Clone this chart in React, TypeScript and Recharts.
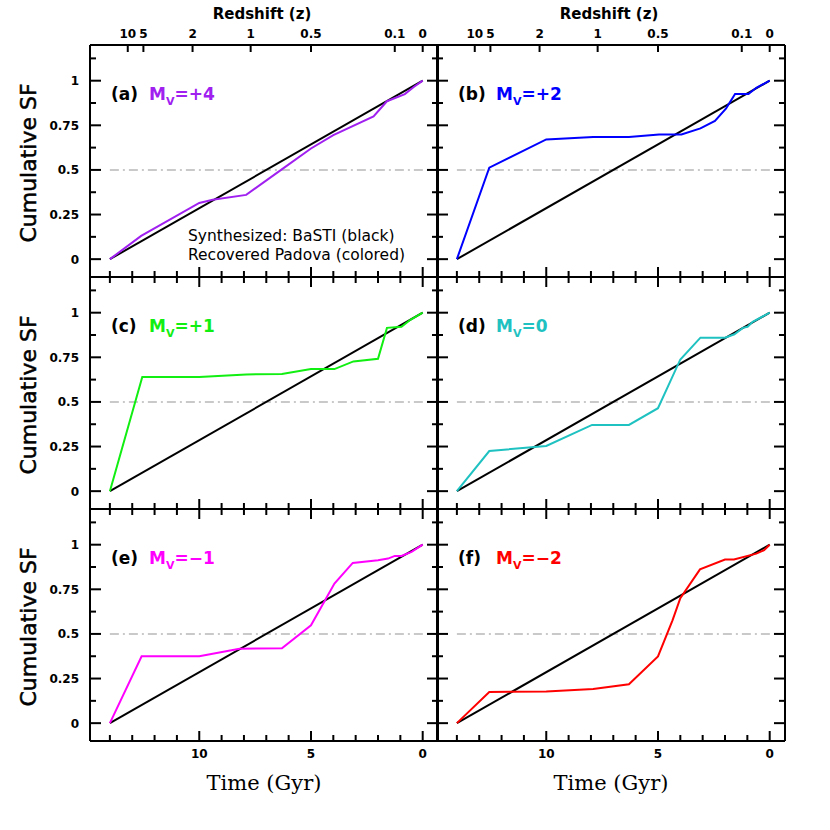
import React from "react";
import { LineChart, Line, XAxis, YAxis, ReferenceLine } from "recharts";

// time axis (lookback, Gyr) and cumulative SF ticks
const timeTicks = [0, 1, 2, 3, 4, 5, 6, 7, 8, 9, 10, 11, 12, 13, 14];
const sfTicks = [0, 0.125, 0.25, 0.375, 0.5, 0.625, 0.75, 0.875, 1, 1.125];
const sfLabels: Record<string, string> = { "0": "0", "0.25": "0.25", "0.5": "0.5", "0.75": "0.75", "1": "1" };

// redshift ticks, placed at their lookback time
const zTicks = [13.2, 12.5, 10.3, 7.7, 5.0, 1.25, 0];
const zLabels = ["10", "5", "2", "1", "0.5", "0.1", "0"];

// synthesized (BaSTI) constant SFH
const synthT = [14, 0];
const synthSF = [0, 1];

// recovered (Padova) per magnitude bin
const aT = [14, 12.6, 10.0, 9.4, 7.9, 6.4, 5.0, 4.0, 2.2, 1.6, 0.8, 0.4, 0];
const aSF = [0, 0.13, 0.315, 0.333, 0.36, 0.495, 0.62, 0.695, 0.8, 0.885, 0.925, 0.965, 1];

const bT = [14, 12.55, 10.0, 7.9, 6.3, 4.95, 3.95, 3.1, 2.45, 1.95, 1.55, 0.95, 0.6, 0];
const bSF = [0, 0.513, 0.671, 0.684, 0.685, 0.698, 0.699, 0.733, 0.775, 0.845, 0.925, 0.925, 0.96, 1];

const cT = [14, 12.55, 10.0, 7.9, 6.3, 5.0, 3.95, 3.1, 2.0, 1.6, 0.95, 0.55, 0];
const cSF = [0, 0.64, 0.64, 0.654, 0.657, 0.684, 0.684, 0.727, 0.742, 0.915, 0.921, 0.96, 1];

const dT = [14, 12.55, 10.0, 7.95, 6.3, 5.0, 4.0, 3.1, 2.0, 1.58, 1.2, 0.99, 0.76, 0];
const dSF = [0, 0.225, 0.253, 0.371, 0.371, 0.465, 0.738, 0.86, 0.86, 0.879, 0.915, 0.921, 0.949, 1];

const eT = [14, 12.58, 10.0, 8.2, 6.3, 5.0, 3.95, 3.13, 2.0, 1.55, 1.25, 0.95, 0.5, 0];
const eSF = [0, 0.375, 0.375, 0.417, 0.42, 0.548, 0.782, 0.898, 0.913, 0.922, 0.937, 0.937, 0.96, 1];

const fT = [14, 12.55, 10.0, 7.9, 6.3, 5.0, 4.35, 4.0, 3.12, 2.0, 1.6, 0.6, 0.25, 0];
const fSF = [0, 0.175, 0.177, 0.192, 0.218, 0.374, 0.576, 0.7, 0.862, 0.917, 0.917, 0.95, 0.969, 1];

const panels = [
  { tag: "(a)", mag: "=+4", color: "#a020f0", t: aT, sf: aSF, row: 0, col: 0 },
  { tag: "(b)", mag: "=+2", color: "#0000ff", t: bT, sf: bSF, row: 0, col: 1 },
  { tag: "(c)", mag: "=+1", color: "#11ee11", t: cT, sf: cSF, row: 1, col: 0 },
  { tag: "(d)", mag: "=0", color: "#1fc1c1", t: dT, sf: dSF, row: 1, col: 1 },
  { tag: "(e)", mag: "=\u22121", color: "#ff00ff", t: eT, sf: eSF, row: 2, col: 0 },
  { tag: "(f)", mag: "=\u22122", color: "#ff0000", t: fT, sf: fSF, row: 2, col: 1 },
];

const W = 830;
const H = 830;
const colX = [90, 437];
const rowY = [45, 277, 509];
const PW = 348;
const PH = 232;
const xDomain = [-0.685, 14.89];
const yDomain = [-0.1, 1.2];

const numFont = { fontFamily: "DejaVu Sans", fontWeight: 700, fontSize: 12 };

function Panel({ p }: { p: (typeof panels)[number] }) {
  const left = colX[p.col];
  const top = rowY[p.row];
  const isTop = p.row === 0;
  const isBottom = p.row === 2;
  const isLeft = p.col === 0;
  const recovered = p.t.map((t, i) => ({ t, sf: p.sf[i] }));
  const synth = synthT.map((t, i) => ({ t, sf: synthSF[i] }));

  const BottomTick = (props: any) => {
    const { x, y, payload } = props;
    const major = payload.value % 5 === 0;
    return (
      <g>
        <line x1={x} x2={x} y1={y} y2={y - (major ? 10 : 6)} stroke="#000" strokeWidth={2} />
        {isBottom && major && (
          <text x={x} y={y + 17} textAnchor="middle" fill="#000" {...numFont}>
            {payload.value}
          </text>
        )}
      </g>
    );
  };

  const TopTick = (props: any) => {
    const { x, y, payload, index } = props;
    if (isTop) {
      return (
        <g>
          <line x1={x} x2={x} y1={y} y2={y + 7} stroke="#000" strokeWidth={2} />
          <text x={x} y={y - 7} textAnchor="middle" fill="#000" {...numFont}>
            {zLabels[index]}
          </text>
        </g>
      );
    }
    const major = payload.value % 5 === 0;
    return <line x1={x} x2={x} y1={y} y2={y + (major ? 10 : 6)} stroke="#000" strokeWidth={2} />;
  };

  const LeftTick = (props: any) => {
    const { x, y, payload } = props;
    const label = sfLabels[String(payload.value)];
    return (
      <g>
        <line x1={x} x2={x + (label ? 11 : 6)} y1={y} y2={y} stroke="#000" strokeWidth={2} />
        {isLeft && label && (
          <text x={x - 11} y={y + 4.5} textAnchor="end" fill="#000" {...numFont}>
            {label}
          </text>
        )}
      </g>
    );
  };

  const RightTick = (props: any) => {
    const { x, y, payload } = props;
    const label = sfLabels[String(payload.value)];
    return <line x1={x} x2={x - (label ? 11 : 6)} y1={y} y2={y} stroke="#000" strokeWidth={2} />;
  };

  const axisLine = { stroke: "#000", strokeWidth: 2 };

  return (
    <div style={{ position: "absolute", left: 0, top: 0 }}>
      <LineChart
        width={W}
        height={H}
        margin={{ left: left - 1, top: top - 1, right: W - left - PW - 1, bottom: H - top - PH - 1 }}
      >
        <XAxis
          xAxisId="b"
          type="number"
          dataKey="t"
          orientation="bottom"
          reversed
          domain={xDomain}
          allowDataOverflow
          ticks={timeTicks}
          interval={0}
          height={1}
          tickSize={0}
          tickMargin={0}
          tickLine={false}
          axisLine={axisLine}
          tick={<BottomTick />}
        />
        <XAxis
          xAxisId="t"
          type="number"
          dataKey="t"
          orientation="top"
          reversed
          domain={xDomain}
          allowDataOverflow
          ticks={isTop ? zTicks : timeTicks}
          interval={0}
          height={1}
          tickSize={0}
          tickMargin={0}
          tickLine={false}
          axisLine={axisLine}
          tick={<TopTick />}
        />
        <YAxis
          yAxisId="l"
          type="number"
          orientation="left"
          domain={yDomain}
          allowDataOverflow
          ticks={sfTicks}
          interval={0}
          width={1}
          tickSize={0}
          tickMargin={0}
          tickLine={false}
          axisLine={axisLine}
          tick={<LeftTick />}
        />
        <YAxis
          yAxisId="r"
          type="number"
          orientation="right"
          domain={yDomain}
          allowDataOverflow
          ticks={sfTicks}
          interval={0}
          width={1}
          tickSize={0}
          tickMargin={0}
          tickLine={false}
          axisLine={axisLine}
          tick={<RightTick />}
        />
        <ReferenceLine
          xAxisId="b"
          yAxisId="l"
          segment={[
            { x: 14, y: 0.5 },
            { x: xDomain[0], y: 0.5 },
          ]}
          stroke="#b8b8b8"
          strokeWidth={1.5}
          strokeDasharray="9 4 2 4"
        />
        <Line
          xAxisId="b"
          yAxisId="l"
          data={synth}
          dataKey="sf"
          type="linear"
          stroke="#000"
          strokeWidth={2}
          dot={false}
          isAnimationActive={false}
        />
        <Line
          xAxisId="b"
          yAxisId="l"
          data={recovered}
          dataKey="sf"
          type="linear"
          stroke={p.color}
          strokeWidth={2}
          dot={false}
          isAnimationActive={false}
        />
        <text x={left + 21} y={top + 55} fill="#000" fontFamily="DejaVu Sans" fontWeight={700} fontSize={17}>
          {p.tag}
        </text>
        <text x={left + 59} y={top + 55} fill={p.color} fontFamily="DejaVu Sans" fontWeight={700} fontSize={17}>
          M
          <tspan fontSize={11} dy={5}>
            V
          </tspan>
          <tspan dy={-5}>{p.mag}</tspan>
        </text>
        {isLeft && (
          <text
            x={36}
            y={top + PH / 2 + 2}
            transform={`rotate(-90, 36, ${top + PH / 2 + 2})`}
            textAnchor="middle"
            fill="#000"
            stroke="#000"
            strokeWidth={0.5}
            fontFamily="DejaVu Sans"
            fontSize={22}
          >
            Cumulative SF
          </text>
        )}
        {isTop && (
          <text x={left + 172} y={19} textAnchor="middle" fill="#000" fontFamily="DejaVu Sans" fontWeight={700} fontSize={15}>
            Redshift (z)
          </text>
        )}
        {isBottom && (
          <text x={left + 174} y={790} textAnchor="middle" fill="#000" fontFamily="DejaVu Serif" fontSize={21}>
            Time (Gyr)
          </text>
        )}
        {p.tag === "(a)" && (
          <text fill="#000" fontFamily="DejaVu Sans" fontSize={15.5}>
            <tspan x={188} y={241}>
              Synthesized: BaSTI (black)
            </tspan>
            <tspan x={188} y={260}>
              Recovered Padova (colored)
            </tspan>
          </text>
        )}
      </LineChart>
    </div>
  );
}

export default function App() {
  return (
    <div style={{ position: "absolute", left: 0, top: 0, width: W, height: H, background: "#fff" }}>
      {panels.map((p) => (
        <Panel key={p.tag} p={p} />
      ))}
    </div>
  );
}
